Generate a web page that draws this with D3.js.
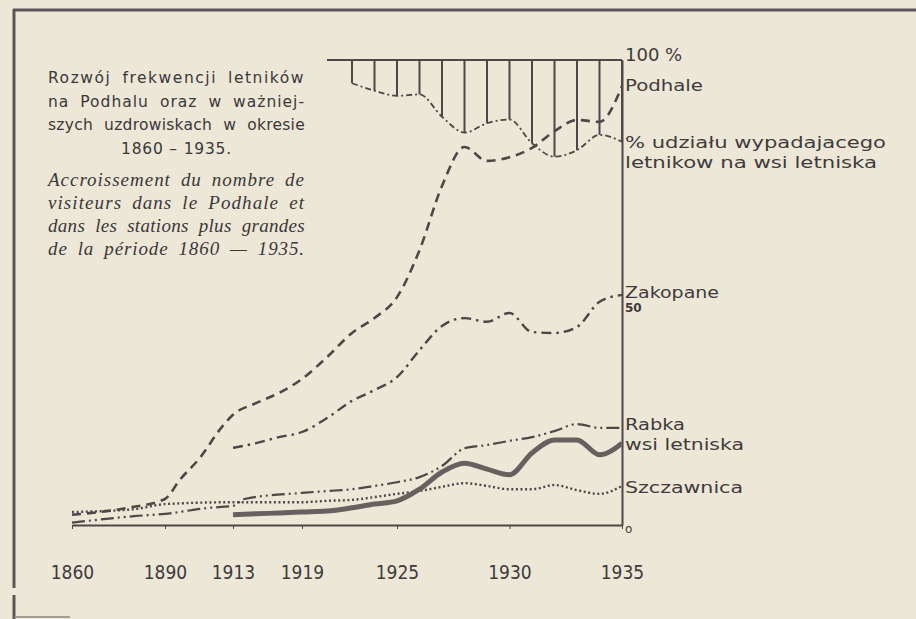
<!DOCTYPE html>
<html>
<head>
<meta charset="utf-8">
<script src="https://cdn.jsdelivr.net/npm/d3@7"></script>
<style>
  body { margin: 0; background: #ede7d8; }
  svg { display: block; }
</style>
</head>
<body>
<div id="chart"></div>
<script>
// tick labels on the bottom (uneven time axis)
var yearLabels = [1860, 1890, 1913, 1919, 1925, 1930, 1935];

// Podhale - all summer visitors (dashed)
var podhaleYears = [1860, 1878, 1890, 1895, 1902, 1909, 1913, 1915, 1917, 1919, 1921, 1923, 1924, 1925, 1926, 1927, 1928, 1929, 1930, 1931, 1932, 1933, 1934, 1935];
var podhaleValues = [2.2, 3.7, 5.6, 9.7, 14.6, 20.9, 23.7, 26.2, 28.4, 31.4, 36.1, 41.3, 44.5, 49.0, 59.1, 72.9, 81.3, 78.3, 79.1, 81.1, 84.7, 87.1, 86.7, 94.4];

// Zakopane (dash-dot)
var zakopaneYears = [1913, 1915, 1917, 1919, 1921, 1923, 1924, 1925, 1926, 1927, 1928, 1929, 1930, 1931, 1932, 1933, 1934, 1935];
var zakopaneValues = [16.6, 17.6, 18.9, 20.0, 23.0, 26.7, 29.0, 31.8, 37.6, 42.8, 44.5, 43.7, 45.6, 41.5, 41.3, 42.6, 48.0, 49.5];

// Rabka (dash-dot-dot)
var rabkaYears = [1860, 1880, 1890, 1905, 1913, 1914, 1919, 1921, 1923, 1924, 1925, 1926, 1927, 1928, 1929, 1930, 1931, 1932, 1933, 1934, 1935];
var rabkaValues = [0.5, 1.9, 2.4, 3.7, 4.1, 5.6, 6.9, 7.3, 7.7, 8.4, 9.2, 10.3, 12.7, 16.5, 17.2, 18.1, 18.9, 20.2, 21.7, 20.9, 20.9];

// villages (thick solid)
var wsiYears = [1913, 1915, 1917, 1919, 1921, 1923, 1924, 1925, 1926, 1927, 1928, 1929, 1930, 1931, 1932, 1933, 1934, 1935];
var wsiValues = [2.2, 2.4, 2.6, 2.8, 3.0, 3.7, 4.5, 5.2, 7.7, 11.4, 13.3, 12.0, 10.8, 15.5, 18.3, 18.3, 15.1, 17.6];

// Szczawnica (dotted)
var szczawnicaYears = [1860, 1880, 1890, 1913, 1919, 1921, 1923, 1924, 1925, 1926, 1927, 1928, 1929, 1930, 1931, 1932, 1933, 1934, 1935];
var szczawnicaValues = [2.8, 3.4, 4.5, 4.9, 4.9, 5.2, 5.4, 6.0, 6.7, 7.3, 8.2, 9.0, 8.4, 7.7, 7.7, 8.6, 7.5, 6.7, 8.4];

// % share of visitors staying in villages (hanging from 100 %)
var shareYears = [1923, 1924, 1925, 1926, 1927, 1928, 1929, 1930, 1931, 1932, 1933, 1934, 1935];
var shareValues = [95.0, 93.4, 92.3, 92.6, 87.8, 84.4, 86.4, 87.2, 82.1, 79.2, 80.6, 83.9, 82.4];

var titleLines = ["Rozwój frekwencji letników", "na Podhalu oraz w ważniej-", "szych uzdrowiskach w okresie", "1860 – 1935."];
var frenchLines = ["Accroissement du nombre de", "visiteurs dans le Podhale et", "dans les stations plus grandes", "de la période 1860 — 1935."];

function drawChart() {
    var width = 916, height = 619;
    var ink = "#4b4848";

    var svg = d3.select("#chart")
        .append("svg")
        .attr("width", width)
        .attr("height", height);

    svg.append("rect")
        .attr("width", width)
        .attr("height", height)
        .attr("fill", "#ede7d8");

    // page frame of the scan
    svg.append("line").attr("x1", 13).attr("x2", 916).attr("y1", 10).attr("y2", 10)
        .attr("stroke", "#5a5656").attr("stroke-width", 3);
    svg.append("line").attr("x1", 14).attr("x2", 14).attr("y1", 9).attr("y2", 588)
        .attr("stroke", "#5a5656").attr("stroke-width", 3);
    svg.append("line").attr("x1", 14).attr("x2", 14).attr("y1", 595).attr("y2", 619)
        .attr("stroke", "#5a5656").attr("stroke-width", 3);
    svg.append("line").attr("x1", 14).attr("x2", 70).attr("y1", 617).attr("y2", 617)
        .attr("stroke", "#8a8580").attr("stroke-width", 1.5);

    var x = d3.scaleLinear()
        .domain([1860, 1890, 1913, 1919, 1923, 1935])
        .range([72, 165, 233, 302, 352, 622]);
    var y = d3.scaleLinear()
        .domain([0, 100])
        .range([525, 60]);

    // bottom axis
    var xAxis = svg.append("g")
        .attr("transform", "translate(0," + y(0) + ")")
        .call(d3.axisBottom(x).tickValues(yearLabels).tickSize(4).tickPadding(37).tickSizeOuter(0).tickFormat(d3.format("d")));
    xAxis.select(".domain").attr("stroke", ink).attr("stroke-width", 2.2);
    xAxis.selectAll(".tick line").attr("stroke", ink).attr("stroke-width", 1);
    xAxis.selectAll(".tick text")
        .attr("fill", "#3e3b3b")
        .style("font-family", "'DejaVu Sans Condensed', 'DejaVu Sans', sans-serif")
        .style("font-size", "19px");

    // right axis
    var labelShift = { 0: 2, 50: 14, 100: -5 };
    var yAxis = svg.append("g")
        .attr("transform", "translate(" + x(1935) + ",0)")
        .call(d3.axisRight(y).tickValues([0, 50, 100]).tickSize(0).tickPadding(3)
            .tickFormat(function (d) { return d === 100 ? "100 %" : (d === 0 ? "o" : d); }));
    yAxis.select(".domain").attr("stroke", ink).attr("stroke-width", 2);
    yAxis.selectAll(".tick text")
        .attr("fill", "#3e3b3b")
        .attr("dy", function (d) { return (labelShift[d] + 5) + "px"; })
        .style("font-family", "'DejaVu Sans', sans-serif")
        .style("font-size", function (d) { return d === 100 ? "18px" : "12px"; })
        .style("font-weight", function (d) { return d === 50 ? "bold" : "normal"; });

    // 100 % line closing the share band
    svg.append("line")
        .attr("x1", x(1921)).attr("x2", x(1935))
        .attr("y1", y(100)).attr("y2", y(100))
        .attr("stroke", ink).attr("stroke-width", 2);

    // hatching between 100 % and the share curve
    svg.selectAll("hatch")
        .data(shareYears)
        .enter()
        .append("line")
        .attr("x1", function (d) { return x(d); })
        .attr("x2", function (d) { return x(d); })
        .attr("y1", y(100))
        .attr("y2", function (d, i) { return y(shareValues[i]); })
        .attr("stroke", ink)
        .attr("stroke-width", 2);

    var line = d3.line()
        .x(function (d) { return x(d[0]); })
        .y(function (d) { return y(d[1]); })
        .curve(d3.curveMonotoneX);

    function series(years, values) {
        return years.map(function (yr, i) { return [yr, values[i]]; });
    }

    var lines = [
        { data: series(szczawnicaYears, szczawnicaValues), width: 2.4, dash: "2,2.6" },
        { data: series(wsiYears, wsiValues), width: 5, dash: null },
        { data: series(rabkaYears, rabkaValues), width: 2.2, dash: "13,4,2,4,2,4" },
        { data: series(zakopaneYears, zakopaneValues), width: 2.4, dash: "10,5,2.5,5" },
        { data: series(podhaleYears, podhaleValues), width: 2.6, dash: "9,6" },
        { data: series(shareYears, shareValues), width: 1.8, dash: "6,3,2,3" }
    ];

    svg.selectAll("series")
        .data(lines)
        .enter()
        .append("path")
        .attr("d", function (d) { return line(d.data); })
        .attr("fill", "none")
        .attr("stroke", function (d) { return d.width > 4 ? "#66615f" : ink; })
        .attr("stroke-width", function (d) { return d.width; })
        .attr("stroke-dasharray", function (d) { return d.dash; });

    // series names at the right edge
    var names = [
        { text: "Podhale", y: 91, len: 78 },
        { text: "% udziału wypadajacego", y: 148, len: 261 },
        { text: "letnikow na wsi letniska", y: 168, len: 252 },
        { text: "Zakopane", y: 298, len: 94 },
        { text: "Rabka", y: 430, len: 60 },
        { text: "wsi letniska", y: 450, len: 119 },
        { text: "Szczawnica", y: 493, len: 118 }
    ];
    svg.selectAll("names")
        .data(names)
        .enter()
        .append("text")
        .attr("x", x(1935) + 3)
        .attr("y", function (d) { return d.y; })
        .attr("textLength", function (d) { return d.len; })
        .attr("lengthAdjust", "spacingAndGlyphs")
        .attr("fill", "#3e3b3b")
        .style("font-family", "'DejaVu Sans', sans-serif")
        .style("font-size", "16px")
        .text(function (d) { return d.text; });

    // title block, justified like the print: letter spacing first, then word gaps
    var left = 48, right = 305;
    function justified(text, yPos, font, size, style, wordGap, centre) {
        var t = svg.append("text")
            .attr("y", yPos)
            .attr("fill", "#3b3838")
            .style("font-family", font)
            .style("font-size", size)
            .style("font-style", style);
        if (centre) {
            t.attr("x", (left + right) / 2).attr("text-anchor", "middle")
                .attr("letter-spacing", 0.8).text(text);
            return;
        }
        var words = text.split(" ");
        var spans = words.map(function (w) { return t.append("tspan").text(w); });
        var natural = d3.sum(spans, function (s) { return s.node().getComputedTextLength(); });
        var chars = d3.sum(words, function (w) { return w.length; });
        var ls = (right - left - natural - wordGap * (words.length - 1)) / chars;
        ls = Math.max(-0.3, Math.min(1.6, ls));
        t.attr("letter-spacing", ls);
        var widths = spans.map(function (s) { return s.node().getComputedTextLength(); });
        var gap = (right - left - d3.sum(widths)) / (words.length - 1);
        var pos = left;
        spans.forEach(function (s, i) {
            s.attr("x", pos);
            pos += widths[i] + gap;
        });
    }
    titleLines.forEach(function (txt, i) {
        justified(txt, 83 + i * 23.5, "'DejaVu Sans', sans-serif", "15.5px", "normal", 11, i === 3);
    });
    frenchLines.forEach(function (txt, i) {
        justified(txt, 186 + i * 23, "'Liberation Serif', serif", "19px", "italic", 10, false);
    });
}

drawChart();
</script>
</body>
</html>
